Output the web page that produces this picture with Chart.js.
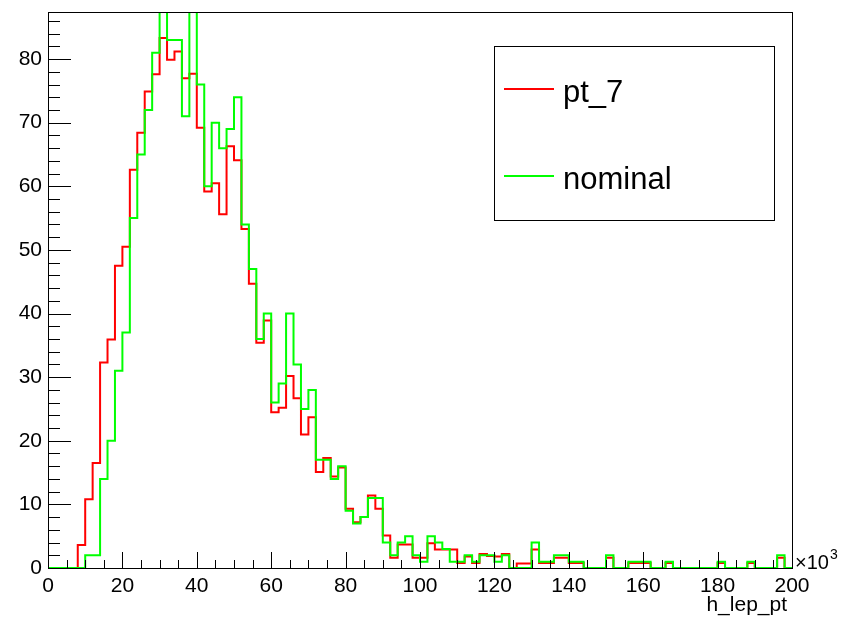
<!DOCTYPE html>
<html>
<head>
<meta charset="utf-8">
<script src="https://cdn.jsdelivr.net/npm/chart.js@4/dist/chart.umd.min.js"></script>
<style>
  html, body { margin: 0; padding: 0; background: #fff; }
  #wrap { width: 846px; height: 621px; }
</style>
</head>
<body>
<div id="wrap"><canvas id="c" width="846" height="621"></canvas></div>
<script>
// h_lep_pt, 100 bins of width 2 (x10^3) from 0 to 200
const xLow = 0;
const xHigh = 200;
const binWidth = 2;
const yMax = 87.4;

const seriesNames = ['pt_7', 'nominal'];

const pt7 = [
  0, 0, 0, 0, 3.6, 10.8, 16.5, 32.3, 35.9, 47.5,
  50.5, 62.6, 68.4, 74.9, 77.6, 83.3, 79.9, 81.2, 77.0, 77.7,
  69.2, 59.2, 60.5, 55.6, 66.3, 64.1, 53.3, 44.7, 35.4, 38.9,
  24.5, 25.2, 30.2, 26.7, 21.0, 23.7, 15.1, 17.3, 14.4, 15.8,
  9.3, 7.2, 8.0, 11.4, 9.3, 5.1, 1.6, 3.7, 3.7, 1.6,
  1.6, 3.9, 2.9, 2.9, 2.9, 0.8, 1.8, 0.8, 2.2, 1.9,
  1.8, 2.2, 0, 0.7, 0.7, 2.9, 0.8, 0.8, 1.6, 1.6,
  0.8, 0.8, 0, 0, 0, 1.6, 0, 0, 0.8, 0.8,
  0.8, 0, 0, 0.8, 0, 0, 0, 0, 0, 0,
  0.8, 0, 0, 0, 0.8, 0, 0, 0, 1.6, 0
];

const nominal = [
  0, 0, 0, 0, 0, 2, 2, 14, 20, 31,
  37, 55, 65, 72, 81, 89, 83, 83, 71, 89,
  76, 60, 70, 66, 69, 74, 54, 47, 36, 40,
  26, 29, 40, 32, 25, 28, 17, 17, 14, 16,
  9, 7, 8, 11, 11, 4, 2, 4, 5, 2,
  1, 5, 4, 3, 1, 1, 2, 1, 2, 2,
  1, 2, 0, 0, 0, 4, 1, 1, 2, 2,
  1, 1, 0, 0, 0, 2, 0, 0, 1, 1,
  1, 0, 0, 1, 0, 0, 0, 0, 0, 0,
  1, 0, 0, 0, 1, 0, 0, 0, 2, 0
];

const xTickStep = 20, xMinorStep = 5;
const yTickStep = 10, yMinorStep = 2;

const FONT = '"Liberation Sans", Arial, Helvetica, sans-serif';

// step outline: one point per bin low edge, plus the closing edge
function toSteps(vals) {
  const pts = vals.map((v, i) => ({ x: xLow + i * binWidth, y: v }));
  pts.push({ x: xHigh, y: vals[vals.length - 1] });
  return pts;
}

// ROOT-like frame, inward ticks, exponent, axis title and legend
const rootFrame = {
  id: 'rootFrame',
  afterDatasetsDraw(chart) {
    const { ctx, chartArea: a, scales: { x, y } } = chart;
    ctx.save();
    ctx.strokeStyle = '#000';
    ctx.lineWidth = 1;

    ctx.beginPath();
    for (let v = 0; v <= yMax; v += yMinorStep) {
      const py = Math.round(y.getPixelForValue(v)) + 0.5;
      const len = v % yTickStep === 0 ? 23 : 12;
      ctx.moveTo(a.left, py); ctx.lineTo(a.left + len, py);
    }
    for (let v = xLow; v <= xHigh; v += xMinorStep) {
      const px = Math.round(x.getPixelForValue(v)) + 0.5;
      const len = v % xTickStep === 0 ? 16 : 8;
      ctx.moveTo(px, a.bottom); ctx.lineTo(px, a.bottom - len);
    }
    ctx.stroke();
    ctx.strokeRect(Math.round(a.left) + 0.5, Math.round(a.top) + 0.5,
      Math.round(a.right - a.left), Math.round(a.bottom - a.top));

    // exponent and axis title
    ctx.fillStyle = '#000';
    ctx.textBaseline = 'alphabetic';
    ctx.textAlign = 'left';
    ctx.font = '20px ' + FONT;
    ctx.fillText('\u00d710', a.right + 3, a.bottom + 1);
    ctx.font = '14px ' + FONT;
    ctx.fillText('3', a.right + 38, a.bottom - 9);
    ctx.textAlign = 'right';
    ctx.font = '21px ' + FONT;
    ctx.fillText('h_lep_pt', a.right - 5, 611);

    // legend box
    const lx = 494, ly = 46, lw = 280, lh = 174;
    ctx.fillStyle = '#fff';
    ctx.fillRect(lx, ly, lw, lh);
    ctx.strokeRect(lx + 0.5, ly + 0.5, lw, lh);
    const rows = [
      { name: seriesNames[0], color: '#ff0000', yLine: 89 },
      { name: seriesNames[1], color: '#00ff00', yLine: 176 }
    ];
    ctx.textAlign = 'left';
    ctx.font = '31px ' + FONT;
    rows.forEach(r => {
      ctx.strokeStyle = r.color;
      ctx.lineWidth = 2;
      ctx.beginPath();
      ctx.moveTo(lx + 10, r.yLine); ctx.lineTo(lx + 60, r.yLine);
      ctx.stroke();
      ctx.fillStyle = '#000';
      ctx.fillText(r.name, lx + 69, r.yLine + 13);
    });
    ctx.restore();
  }
};

new Chart(document.getElementById('c'), {
  type: 'line',
  data: {
    datasets: [
      {
        label: seriesNames[0],
        data: toSteps(pt7),
        borderColor: '#ff0000',
        borderWidth: 2,
        stepped: 'before',
        pointRadius: 0,
        fill: false,
        order: 1
      },
      {
        label: seriesNames[1],
        data: toSteps(nominal),
        borderColor: '#00ff00',
        borderWidth: 2,
        stepped: 'before',
        pointRadius: 0,
        fill: false,
        order: 0
      }
    ]
  },
  options: {
    responsive: false,
    animation: false,
    events: [],
    layout: { padding: { top: 12, right: 54, left: 0, bottom: 0 } },
    plugins: { legend: { display: false }, tooltip: { enabled: false } },
    scales: {
      x: {
        type: 'linear',
        min: xLow, max: xHigh,
        grid: { display: false, drawTicks: false },
        border: { display: false },
        ticks: {
          stepSize: xTickStep, includeBounds: false, padding: 6,
          color: '#000', font: { family: FONT, size: 21 }, maxRotation: 0
        },
        afterFit(s) { s.height = 53; s.paddingLeft = 0; s.paddingRight = 0; }
      },
      y: {
        min: 0, max: yMax,
        grid: { display: false, drawTicks: false },
        border: { display: false },
        ticks: {
          stepSize: yTickStep, includeBounds: false, padding: 6,
          color: '#000', font: { family: FONT, size: 21 }
        },
        afterFit(s) { s.width = 48; s.paddingTop = 0; s.paddingBottom = 0; }
      }
    }
  },
  plugins: [rootFrame]
});
</script>
</body>
</html>
